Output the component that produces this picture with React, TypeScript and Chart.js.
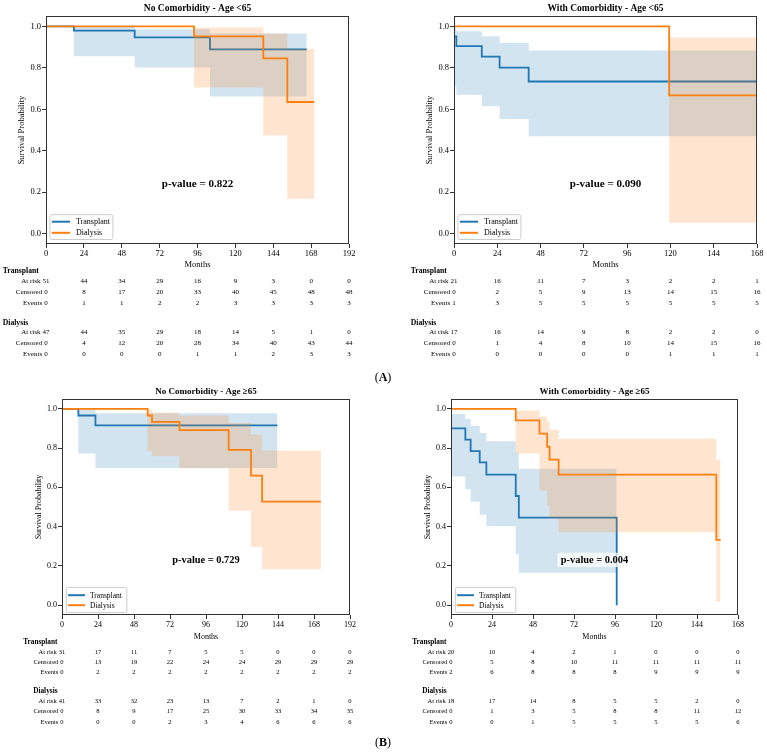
import React, { useEffect, useRef } from "react";
import { Chart, registerables } from "chart.js";

Chart.register(...registerables);

const FONT = '"Liberation Serif", "Times New Roman", serif';
const BLUE = "#1f77b4";
const ORANGE = "#ff7f0e";
const BLUE_BAND = "rgba(31,119,180,0.2)";
const ORANGE_BAND = "rgba(255,127,14,0.2)";

const Y_TICKS = [0, 0.2, 0.4, 0.6, 0.8, 1.0];
const X_TICKS_192 = [0, 24, 48, 72, 96, 120, 144, 168, 192];
const X_TICKS_168 = [0, 24, 48, 72, 96, 120, 144, 168];
const GROUP_NAMES = ["Transplant", "Dialysis"];
const ROW_LABELS = ["At risk", "Censored", "Events"];
const Y_TITLE = "Survival Probability";
const X_TITLE = "Months";

// ---------- Panel A1: No Comorbidity - Age <65 ----------
const A1_TITLE = "No Comorbidity - Age <65";
const A1_P = "p-value = 0.822";
const A1_TR_TIME = [0, 17.7, 56.2, 103.9, 165.2];
const A1_TR_SURV = [1, 0.979, 0.947, 0.889, 0.889];
const A1_TR_UPPER = [1, 0.997, 0.986, 0.966, 0.966];
const A1_TR_LOWER = [1, 0.856, 0.801, 0.662, 0.662];
const A1_DI_TIME = [0, 93.8, 137.7, 152.9, 170];
const A1_DI_SURV = [1, 0.952, 0.846, 0.635, 0.635];
const A1_DI_UPPER = [1, 0.994, 0.966, 0.891, 0.891];
const A1_DI_LOWER = [1, 0.705, 0.473, 0.168, 0.168];
const A1_TR_AT_RISK = [51, 44, 34, 29, 16, 9, 3, 0, 0];
const A1_TR_CENSORED = [0, 8, 17, 20, 33, 40, 45, 48, 48];
const A1_TR_EVENTS = [0, 1, 1, 2, 2, 3, 3, 3, 3];
const A1_DI_AT_RISK = [47, 44, 35, 29, 18, 14, 5, 1, 0];
const A1_DI_CENSORED = [0, 4, 12, 20, 28, 34, 40, 43, 44];
const A1_DI_EVENTS = [0, 0, 0, 0, 1, 1, 2, 3, 3];

// ---------- Panel A2: With Comorbidity - Age <65 ----------
const A2_TITLE = "With Comorbidity - Age <65";
const A2_P = "p-value = 0.090";
const A2_TR_TIME = [0, 1.3, 15.4, 25.3, 41.4, 168];
const A2_TR_SURV = [0.952, 0.905, 0.854, 0.801, 0.734, 0.734];
const A2_TR_UPPER = [0.995, 0.976, 0.952, 0.921, 0.883, 0.883];
const A2_TR_LOWER = [0.71, 0.67, 0.614, 0.553, 0.47, 0.47];
const A2_DI_TIME = [0, 119.3, 167.4];
const A2_DI_SURV = [1, 0.667, 0.667];
const A2_DI_UPPER = [1, 0.946, 0.946];
const A2_DI_LOWER = [1, 0.053, 0.053];
const A2_TR_AT_RISK = [21, 16, 11, 7, 3, 2, 2, 1];
const A2_TR_CENSORED = [0, 2, 5, 9, 13, 14, 15, 16];
const A2_TR_EVENTS = [1, 3, 5, 5, 5, 5, 5, 5];
const A2_DI_AT_RISK = [17, 16, 14, 9, 8, 2, 2, 0];
const A2_DI_CENSORED = [0, 1, 4, 8, 10, 14, 15, 16];
const A2_DI_EVENTS = [0, 0, 0, 0, 0, 1, 1, 1];

// ---------- Panel B1: No Comorbidity - Age ≥65 ----------
const B1_TITLE = "No Comorbidity - Age ≥65";
const B1_P = "p-value = 0.729";
const B1_TR_TIME = [0, 10.9, 22.3, 143.6];
const B1_TR_SURV = [1, 0.966, 0.916, 0.916];
const B1_TR_UPPER = [1, 0.995, 0.978, 0.978];
const B1_TR_LOWER = [1, 0.773, 0.699, 0.699];
const B1_DI_TIME = [0, 57.1, 60, 78.3, 111.1, 126, 133.4, 172.6];
const B1_DI_SURV = [1, 0.966, 0.934, 0.891, 0.791, 0.66, 0.527, 0.527];
const B1_DI_UPPER = [1, 0.995, 0.981, 0.966, 0.928, 0.869, 0.788, 0.788];
const B1_DI_LOWER = [1, 0.785, 0.759, 0.697, 0.481, 0.296, 0.183, 0.183];
const B1_TR_AT_RISK = [31, 17, 11, 7, 5, 5, 0, 0, 0];
const B1_TR_CENSORED = [0, 13, 19, 22, 24, 24, 29, 29, 29];
const B1_TR_EVENTS = [0, 2, 2, 2, 2, 2, 2, 2, 2];
const B1_DI_AT_RISK = [41, 33, 32, 23, 13, 7, 2, 1, 0];
const B1_DI_CENSORED = [0, 8, 9, 17, 25, 30, 33, 34, 35];
const B1_DI_EVENTS = [0, 0, 0, 2, 3, 4, 6, 6, 6];

// ---------- Panel B2: With Comorbidity - Age ≥65 ----------
const B2_TITLE = "With Comorbidity - Age ≥65";
const B2_P = "p-value = 0.004";
const B2_TR_TIME = [0, 8.4, 11.5, 16.8, 20.7, 37.9, 39.7, 97];
const B2_TR_SURV = [0.9, 0.843, 0.785, 0.727, 0.665, 0.556, 0.446, 0];
const B2_TR_UPPER = [0.973, 0.948, 0.914, 0.877, 0.835, 0.776, 0.695, 0];
const B2_TR_LOWER = [0.655, 0.591, 0.527, 0.46, 0.402, 0.259, 0.165, 0];
const B2_DI_TIME = [0, 37.9, 51.8, 56.3, 57.7, 63, 155.3, 157.8];
const B2_DI_SURV = [1, 0.941, 0.874, 0.806, 0.741, 0.665, 0.333, 0.333];
const B2_DI_UPPER = [1, 0.992, 0.961, 0.933, 0.894, 0.847, 0.742, 0.742];
const B2_DI_LOWER = [1, 0.773, 0.583, 0.507, 0.443, 0.372, 0.019, 0.019];
const B2_TR_AT_RISK = [20, 10, 4, 2, 1, 0, 0, 0];
const B2_TR_CENSORED = [0, 5, 8, 10, 11, 11, 11, 11];
const B2_TR_EVENTS = [2, 6, 8, 8, 8, 9, 9, 9];
const B2_DI_AT_RISK = [18, 17, 14, 8, 5, 5, 2, 0];
const B2_DI_CENSORED = [0, 1, 3, 5, 8, 8, 11, 12];
const B2_DI_EVENTS = [0, 0, 1, 5, 5, 5, 5, 6];

// ---------- Layout (positions / sizes only) ----------
const GEO_TOP = {
  tick: 8.5, title: 9.5, pval: 11, legend: 8, table: 7, header: 7.7, axisTitle: 8.5,
  titleDy: -7.7, yTitleDx: -24.3, xTitleDy: 20.5,
  rowY: [27.5, 37.6, 48.3, 59, 78.6, 88.6, 99.3, 110.2],
  headerAlign: "left", headerDx: -43.3,
  legX: 3.4, legTop: -29.8, legW: 63, legH: 24.8, legRows: [-22.3, -11.2], legL0: 2.4, legL1: 20.6, legT: 26.6,
  pFrac: 0.263,
};
const GEO_BOT = {
  tick: 8, title: 9, pval: 10.4, legend: 7.5, table: 6.6, header: 7.3, axisTitle: 8,
  titleDy: -7, yTitleDx: -23.4, xTitleDy: 21.8,
  rowY: [27, 37.4, 47.1, 56.9, 76.3, 86.3, 96.6, 106.8],
  headerAlign: "right", headerDx: -4.5,
  legX: 3.8, legTop: -28.1, legW: 60.5, legH: 25.2, legRows: [-19.8, -9.8], legL0: 2.3, legL1: 19.2, legT: 24.2,
  pFrac: 0.255,
};

const PANELS = [
  {
    box: { left: 0, top: 0, w: 383, h: 372 }, plot: { l: 46, r: 349, t: 16, b: 244 }, geo: GEO_TOP,
    title: A1_TITLE, pval: A1_P, xMax: 192, xTicks: X_TICKS_192,
    tr: { t: A1_TR_TIME, s: A1_TR_SURV, u: A1_TR_UPPER, l: A1_TR_LOWER },
    di: { t: A1_DI_TIME, s: A1_DI_SURV, u: A1_DI_UPPER, l: A1_DI_LOWER },
    table: [[A1_TR_AT_RISK, A1_TR_CENSORED, A1_TR_EVENTS], [A1_DI_AT_RISK, A1_DI_CENSORED, A1_DI_EVENTS]],
  },
  {
    box: { left: 384, top: 0, w: 383, h: 372 }, plot: { l: 70, r: 373, t: 16, b: 244 }, geo: GEO_TOP,
    title: A2_TITLE, pval: A2_P, xMax: 168, xTicks: X_TICKS_168,
    tr: { t: A2_TR_TIME, s: A2_TR_SURV, u: A2_TR_UPPER, l: A2_TR_LOWER },
    di: { t: A2_DI_TIME, s: A2_DI_SURV, u: A2_DI_UPPER, l: A2_DI_LOWER },
    table: [[A2_TR_AT_RISK, A2_TR_CENSORED, A2_TR_EVENTS], [A2_DI_AT_RISK, A2_DI_CENSORED, A2_DI_EVENTS]],
  },
  {
    box: { left: 0, top: 385, w: 383, h: 368 }, plot: { l: 62, r: 350, t: 14, b: 230 }, geo: GEO_BOT,
    title: B1_TITLE, pval: B1_P, xMax: 192, xTicks: X_TICKS_192,
    tr: { t: B1_TR_TIME, s: B1_TR_SURV, u: B1_TR_UPPER, l: B1_TR_LOWER },
    di: { t: B1_DI_TIME, s: B1_DI_SURV, u: B1_DI_UPPER, l: B1_DI_LOWER },
    table: [[B1_TR_AT_RISK, B1_TR_CENSORED, B1_TR_EVENTS], [B1_DI_AT_RISK, B1_DI_CENSORED, B1_DI_EVENTS]],
  },
  {
    box: { left: 384, top: 385, w: 383, h: 368 }, plot: { l: 67, r: 354, t: 14, b: 230 }, geo: GEO_BOT,
    title: B2_TITLE, pval: B2_P, xMax: 168, xTicks: X_TICKS_168,
    tr: { t: B2_TR_TIME, s: B2_TR_SURV, u: B2_TR_UPPER, l: B2_TR_LOWER },
    di: { t: B2_DI_TIME, s: B2_DI_SURV, u: B2_DI_UPPER, l: B2_DI_LOWER },
    table: [[B2_TR_AT_RISK, B2_TR_CENSORED, B2_TR_EVENTS], [B2_DI_AT_RISK, B2_DI_CENSORED, B2_DI_EVENTS]],
  },
];

const pts = (t: number[], v: number[]) => t.map((x, i) => ({ x, y: v[i] }));

function buildDatasets(tr: any, di: any) {
  const base = { pointRadius: 0, stepped: "before", tension: 0 } as any;
  const clear = "rgba(0,0,0,0)";
  return [
    { ...base, data: pts(tr.t, tr.u), fill: 1, backgroundColor: BLUE_BAND, borderColor: clear, borderWidth: 1, order: 6 },
    { ...base, data: pts(tr.t, tr.l), fill: false, borderColor: clear, borderWidth: 1, order: 5 },
    { ...base, data: pts(tr.t, tr.s), fill: false, borderColor: BLUE, borderWidth: 1.8, order: 4 },
    { ...base, data: pts(di.t, di.u), fill: 4, backgroundColor: ORANGE_BAND, borderColor: clear, borderWidth: 1, order: 3 },
    { ...base, data: pts(di.t, di.l), fill: false, borderColor: clear, borderWidth: 1, order: 2 },
    { ...base, data: pts(di.t, di.s), fill: false, borderColor: ORANGE, borderWidth: 1.8, order: 1 },
  ];
}

function roundRect(ctx: CanvasRenderingContext2D, x: number, y: number, w: number, h: number, r: number) {
  ctx.beginPath();
  ctx.moveTo(x + r, y);
  ctx.lineTo(x + w - r, y);
  ctx.arcTo(x + w, y, x + w, y + r, r);
  ctx.lineTo(x + w, y + h - r);
  ctx.arcTo(x + w, y + h, x + w - r, y + h, r);
  ctx.lineTo(x + r, y + h);
  ctx.arcTo(x, y + h, x, y + h - r, r);
  ctx.lineTo(x, y + r);
  ctx.arcTo(x, y, x + r, y, r);
  ctx.closePath();
}

function decor(panel: any) {
  const g = panel.geo;
  return {
    id: "decor",
    afterDatasetsDraw(chart: any) {
      const { ctx, chartArea: a } = chart;
      ctx.save();
      // frame
      ctx.strokeStyle = "#333";
      ctx.lineWidth = 1;
      ctx.strokeRect(a.left + 0.5, a.top + 0.5, a.right - a.left - 1, a.bottom - a.top - 1);
      // p-value with light box
      ctx.font = `bold ${g.pval}px ${FONT}`;
      ctx.textAlign = "center";
      ctx.textBaseline = "middle";
      const px = (a.left + a.right) / 2;
      const py = a.bottom - g.pFrac * (a.bottom - a.top);
      const tw = ctx.measureText(panel.pval).width;
      ctx.fillStyle = "rgba(255,255,255,0.75)";
      roundRect(ctx, px - tw / 2 - 3.5, py - g.pval * 0.68, tw + 7, g.pval * 1.36, 2.5);
      ctx.fill();
      ctx.fillStyle = "#000";
      ctx.fillText(panel.pval, px, py + 0.5);
      // legend
      const lx = a.left + g.legX;
      const ly = a.bottom + g.legTop;
      ctx.fillStyle = "rgba(255,255,255,0.8)";
      ctx.strokeStyle = "#cccccc";
      ctx.lineWidth = 1;
      roundRect(ctx, lx + 0.5, ly + 0.5, g.legW, g.legH, 2);
      ctx.fill();
      ctx.stroke();
      ctx.font = `${g.legend}px ${FONT}`;
      ctx.textAlign = "left";
      [BLUE, ORANGE].forEach((c, i) => {
        const yy = a.bottom + g.legRows[i];
        ctx.strokeStyle = c;
        ctx.lineWidth = 2;
        ctx.beginPath();
        ctx.moveTo(lx + g.legL0, yy);
        ctx.lineTo(lx + g.legL1, yy);
        ctx.stroke();
        ctx.fillStyle = "#000";
        ctx.fillText(GROUP_NAMES[i], lx + g.legT, yy + 0.5);
      });
      ctx.restore();
    },
    afterDraw(chart: any) {
      const { ctx, chartArea: a } = chart;
      const xs = chart.scales.x;
      ctx.save();
      ctx.fillStyle = "#000";
      ctx.textBaseline = "middle";
      // title
      ctx.font = `bold ${g.title}px ${FONT}`;
      ctx.textAlign = "center";
      ctx.fillText(panel.title, (a.left + a.right) / 2, a.top + g.titleDy);
      // axis titles
      ctx.font = `${g.axisTitle}px ${FONT}`;
      ctx.fillText(X_TITLE, (a.left + a.right) / 2, a.bottom + g.xTitleDy);
      ctx.save();
      ctx.translate(a.left + g.yTitleDx, (a.top + a.bottom) / 2);
      ctx.rotate(-Math.PI / 2);
      ctx.fillText(Y_TITLE, 0, 0);
      ctx.restore();
      // risk table
      panel.table.forEach((rows: number[][], gi: number) => {
        const hy = a.bottom + g.rowY[gi * 4];
        ctx.font = `bold ${g.header}px ${FONT}`;
        ctx.textAlign = g.headerAlign;
        ctx.fillText(GROUP_NAMES[gi], a.left + g.headerDx, hy);
        ctx.font = `${g.table}px ${FONT}`;
        rows.forEach((vals: number[], ri: number) => {
          const y = a.bottom + g.rowY[gi * 4 + 1 + ri];
          vals.forEach((v: number, ci: number) => {
            const x = xs.getPixelForValue(panel.xTicks[ci]);
            const s = String(v);
            ctx.textAlign = "center";
            ctx.fillText(s, x, y);
            if (ci === 0) {
              const w = ctx.measureText(s).width;
              ctx.textAlign = "right";
              ctx.fillText(ROW_LABELS[ri], x - w / 2 - g.table * 0.3, y);
            }
          });
        });
      });
      ctx.restore();
    },
  };
}

function makeConfig(panel: any): any {
  const g = panel.geo;
  const p = panel.plot;
  const b = panel.box;
  const tickFont = { family: FONT, size: g.tick };
  const grid = { display: true, drawOnChartArea: false, drawTicks: true, tickLength: 4, color: "#333", lineWidth: 1 };
  return {
    type: "line",
    data: { datasets: buildDatasets(panel.tr, panel.di) },
    options: {
      animation: false,
      responsive: false,
      maintainAspectRatio: false,
      devicePixelRatio: 1,
      events: [],
      layout: { padding: { left: 0, top: p.t, right: b.w - p.r, bottom: 0 } },
      plugins: { legend: { display: false }, title: { display: false }, tooltip: { enabled: false } },
      scales: {
        x: {
          type: "linear",
          min: 0,
          max: panel.xMax,
          afterBuildTicks: (s: any) => { s.ticks = panel.xTicks.map((v: number) => ({ value: v })); },
          afterFit: (s: any) => { s.height = b.h - p.b; },
          grid,
          border: { display: false },
          ticks: { font: tickFont, color: "#000", padding: 1, maxRotation: 0, minRotation: 0, autoSkip: false, callback: (v: any) => String(v) },
        },
        y: {
          type: "linear",
          min: -0.05,
          max: 1.05,
          afterBuildTicks: (s: any) => { s.ticks = Y_TICKS.map((v) => ({ value: v })); },
          afterFit: (s: any) => { s.width = p.l; },
          grid,
          border: { display: false },
          ticks: { font: tickFont, color: "#000", padding: 1, autoSkip: false, callback: (v: any) => Number(v).toFixed(1) },
        },
      },
    },
    plugins: [decor(panel)],
  };
}

function KMPanel({ panel }: { panel: any }) {
  const ref = useRef<HTMLCanvasElement>(null);
  useEffect(() => {
    const chart = new Chart(ref.current as HTMLCanvasElement, makeConfig(panel));
    return () => chart.destroy();
  }, [panel]);
  const b = panel.box;
  return (
    <canvas
      ref={ref}
      width={b.w}
      height={b.h}
      style={{ position: "absolute", left: b.left, top: b.top, width: b.w, height: b.h, display: "block" }}
    />
  );
}

function PanelLabel({ letter, top }: { letter: string; top: number }) {
  return (
    <div
      style={{
        position: "absolute", left: 333, width: 100, top: top - 8, height: 16, lineHeight: "16px",
        textAlign: "center", fontFamily: FONT, fontSize: 12, color: "#000",
      }}
    >
      (<b>{letter}</b>)
    </div>
  );
}

export default function App() {
  return (
    <div style={{ position: "absolute", left: 0, top: 0, width: 767, height: 753, background: "#fff", overflow: "hidden" }}>
      {PANELS.map((p, i) => (
        <KMPanel key={i} panel={p} />
      ))}
      <PanelLabel letter="A" top={377} />
      <PanelLabel letter="B" top={742} />
    </div>
  );
}
